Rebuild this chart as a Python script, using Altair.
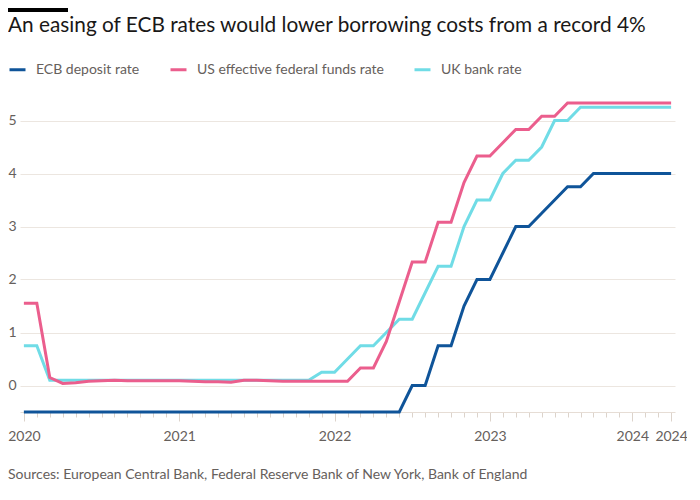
import altair as alt
import pandas as pd

# ---- data (monthly, Jan 2020 .. Mar 2024) ----
months = pd.date_range("2020-01-01", "2024-03-01", freq="MS").strftime("%Y-%m").tolist()

ecb_deposit = [
    -0.5, -0.5, -0.5, -0.5, -0.5, -0.5, -0.5, -0.5, -0.5, -0.5, -0.5, -0.5,
    -0.5, -0.5, -0.5, -0.5, -0.5, -0.5, -0.5, -0.5, -0.5, -0.5, -0.5, -0.5,
    -0.5, -0.5, -0.5, -0.5, -0.5, -0.5, 0.0, 0.0, 0.75, 0.75, 1.5, 2.0,
    2.0, 2.5, 3.0, 3.0, 3.25, 3.5, 3.75, 3.75, 4.0, 4.0, 4.0, 4.0,
    4.0, 4.0, 4.0,
]
us_effr = [
    1.55, 1.55, 0.15, 0.04, 0.05, 0.08, 0.09, 0.10, 0.09, 0.09, 0.09, 0.09,
    0.09, 0.08, 0.07, 0.07, 0.06, 0.10, 0.10, 0.09, 0.08, 0.08, 0.08, 0.08,
    0.08, 0.08, 0.33, 0.33, 0.83, 1.58, 2.33, 2.33, 3.08, 3.08, 3.83, 4.33,
    4.33, 4.58, 4.83, 4.83, 5.08, 5.08, 5.33, 5.33, 5.33, 5.33, 5.33, 5.33,
    5.33, 5.33, 5.33,
]
uk_bank = [
    0.75, 0.75, 0.10, 0.10, 0.10, 0.10, 0.10, 0.10, 0.10, 0.10, 0.10, 0.10,
    0.10, 0.10, 0.10, 0.10, 0.10, 0.10, 0.10, 0.10, 0.10, 0.10, 0.10, 0.25,
    0.25, 0.50, 0.75, 0.75, 1.00, 1.25, 1.25, 1.75, 2.25, 2.25, 3.00, 3.50,
    3.50, 4.00, 4.25, 4.25, 4.50, 5.00, 5.00, 5.25, 5.25, 5.25, 5.25, 5.25,
    5.25, 5.25, 5.25,
]

series_names = ["ECB deposit rate", "US effective federal funds rate", "UK bank rate"]
series_colors = ["#0f5499", "#eb5e8d", "#70dce6"]

tick_positions = [0, 12, 24, 36, 47, 50]
tick_labels = ["2020", "2021", "2022", "2023", "2024", "2024"]
y_ticks = [0, 1, 2, 3, 4, 5]

title_text = "An easing of ECB rates would lower borrowing costs from a record 4%"
source_text = "Sources: European Central Bank, Federal Reserve Bank of New York, Bank of England"

# ---- tidy table ----
rows = []
for name, vals in zip(series_names, [ecb_deposit, us_effr, uk_bank]):
    for i, (m, v) in enumerate(zip(months, vals)):
        rows.append({"idx": i, "month": m, "series": name, "value": v})
df = pd.DataFrame(rows)

FONT = "Lato"
GREY = "#66605c"

label_expr = " : ".join(
    f"datum.value == {p} ? '{l}'" for p, l in zip(tick_positions, tick_labels)
) + " : ''"
major_test = "indexof([" + ",".join(str(p) for p in tick_positions) + "], datum.value) >= 0"

x_enc = alt.X(
    "idx:Q",
    scale=alt.Scale(domain=[-0.3, 50.3], nice=False, zero=False),
    axis=alt.Axis(
        title=None,
        values=list(range(len(months))),
        labelExpr=label_expr,
        labelOverlap=False,
        labelFlush=False,
        labelFont=FONT,
        labelFontSize=14,
        labelColor=GREY,
        labelPadding=8,
        grid=False,
        domain=True,
        domainColor="#e6ddd5",
        tickColor="#dcd3cb",
        tickSize={"condition": {"test": major_test, "value": 9}, "value": 5},
    ),
)
y_enc = alt.Y(
    "value:Q",
    scale=alt.Scale(domain=[-0.5, 5.5], nice=False, zero=False),
    axis=alt.Axis(
        title=None,
        values=y_ticks,
        grid=True,
        gridColor="#ece6e0",
        ticks=False,
        domain=False,
        labelFont=FONT,
        labelFontSize=14,
        labelColor=GREY,
        labelPadding=4,
    ),
)
color_enc = alt.Color(
    "series:N",
    scale=alt.Scale(domain=series_names, range=series_colors),
    legend=alt.Legend(
        title=None,
        orient="none",
        legendX=-12,
        legendY=-34,
        direction="horizontal",
        symbolType="stroke",
        symbolStrokeWidth=3,
        symbolSize=256,
        labelFont=FONT,
        labelFontSize=14,
        labelColor=GREY,
        labelOffset=9,
        labelLimit=0,
        columnPadding=24,
    ),
)

base = alt.Chart(df)
layers = []
for name in [series_names[0], series_names[2], series_names[1]]:
    layers.append(
        base.transform_filter(alt.datum.series == name)
        .mark_line(strokeWidth=3, interpolate="linear")
        .encode(x=x_enc, y=y_enc, color=color_enc)
    )

one = pd.DataFrame({"t": [0]})
bar = alt.Chart(one).mark_rect(color="#000000").encode(
    x=alt.value(-12), x2=alt.value(48), y=alt.value(-86), y2=alt.value(-82)
)
title = alt.Chart(one).mark_text(
    text=title_text, align="left", baseline="alphabetic",
    font=FONT, fontSize=20.8, color="#1a1817",
).encode(x=alt.value(-12), y=alt.value(-62))
source = alt.Chart(one).mark_text(
    text=source_text, align="left", baseline="alphabetic",
    font=FONT, fontSize=14, color=GREY,
).encode(x=alt.value(-12), y=alt.value(385))

chart = alt.layer(*layers, bar, title, source).properties(
    width=655,
    height=318,
    autosize=alt.AutoSizeParams(type="none"),
    padding={"left": 12, "top": 86, "right": 12, "bottom": 80},
    background="white",
).configure_view(stroke=None)

chart.save("out.html", embed_options={"renderer": "svg", "actions": False})
